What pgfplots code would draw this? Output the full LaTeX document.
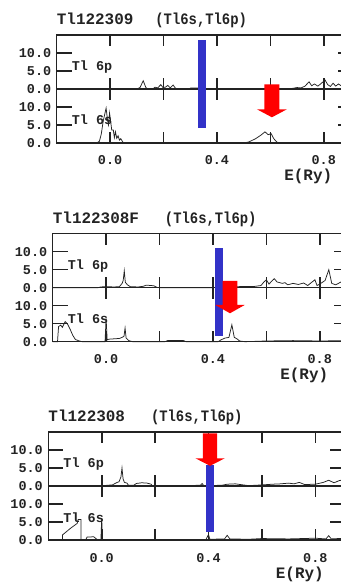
\documentclass[border=0pt]{standalone}
\usepackage{pgfplots}
\pgfplotsset{compat=1.18}
\usepackage{graphicx}
\usepackage{fontspec}
\setmainfont{Liberation Mono}

\definecolor{barblue}{RGB}{50,50,200}
\definecolor{arrowred}{RGB}{255,0,0}
\definecolor{inkgray}{RGB}{35,35,35}

\newcommand\ticklabelfont{\bfseries\fontsize{13.5}{14}\selectfont}
\newcommand\titlefont{\bfseries\fontsize{16}{18}\selectfont}

\pgfplotsset{
  dos/.style={
    scale only axis, width=296.4bp, height=54bp,
    xmin=-0.2, xmax=0.91, ymin=0, ymax=15,
    xtick={0,0.2,0.4,0.6,0.8}, ytick={0,5,10},
    minor ytick={5,10},
    yticklabels={0.0,5.0,10.0},
    tick align=inside,
    major tick length=11bp, minor tick length=15bp,
    axis line style={line width=1.1bp, inkgray},
    major tick style={line width=1.6bp, draw=inkgray},
    minor tick style={line width=1.6bp, draw=inkgray},
    tick label style={font=\ticklabelfont, text=inkgray},
    yticklabel style={anchor=east, xshift=-2bp},
    clip=false, anchor=south west,
  },
  dostop/.style={dos, xticklabels={}},
  dosbottom/.style={dos, xticklabels={0.0,,0.4,,0.8},
    xticklabel style={anchor=base, yshift=-22bp}},
  curve/.style={inkgray, line width=0.75bp, mark=none},
  fermibar/.style={fill=barblue, draw=none, mark=none},
  statearrow/.style={fill=arrowred, draw=none, mark=none},
}

\begin{document}
\begin{tikzpicture}

% ---------------- Tl122309 ----------------
\begin{axis}[dostop, at={(56.7bp,494bp)}]
  \addplot[curve] coordinates {(-0.2,0) (0.10,0) (0.112,0.4) (0.124,2.3) (0.134,0.4) (0.142,0)
    (0.16,0) (0.168,0.5) (0.178,0.3) (0.19,1.2) (0.198,0.4) (0.207,0.5) (0.216,1.0) (0.225,0.3)
    (0.236,1.1) (0.245,0.2) (0.258,0) (0.295,0) (0.302,0.3) (0.328,0.3) (0.336,0) (0.67,0)
    (0.685,0.2) (0.70,0.4) (0.715,0.3) (0.73,0.8) (0.745,2.0) (0.755,0.9) (0.765,1.4) (0.778,0.8)
    (0.79,1.5) (0.805,2.5) (0.815,1.2) (0.825,0.7) (0.835,1.6) (0.845,0.8) (0.855,1.4)
    (0.865,0.9) (0.88,1.1) (0.91,0.9)};
  \node[anchor=base west, inner sep=0, font=\ticklabelfont, text=inkgray, xshift=15bp] at (axis cs:-0.2,5) {Tl 6p};
  \node[anchor=base west, inner sep=0, font=\titlefont, text=inkgray, yshift=10bp] at (rel axis cs:0,1)
    {Tl122309\hspace{22bp}\scalebox{0.87}[1]{(Tl6s,Tl6p)}};
\end{axis}
\begin{axis}[dosbottom, at={(56.7bp,440bp)}]
  \addplot[curve] coordinates {(-0.2,0) (-0.05,0) (-0.04,0.5) (-0.033,2.5) (-0.026,6) (-0.015,9.7)
    (-0.009,6) (-0.006,5) (-0.002,8.3) (0.003,5.5) (0.006,3.6) (0.012,3.6) (0.016,1.5) (0.02,3.1)
    (0.025,1.3) (0.03,2.0) (0.035,0.8) (0.04,1.2) (0.048,0.2) (0.055,0) (0.50,0) (0.52,0.3)
    (0.545,1.2) (0.565,2.2) (0.58,3.1) (0.592,2.3) (0.603,2.6) (0.613,1.2) (0.625,0.2) (0.64,0) (0.91,0)};
  \node[anchor=base west, inner sep=0, font=\ticklabelfont, text=inkgray, xshift=15bp] at (axis cs:-0.2,5) {Tl 6s};
  \node[anchor=base, inner sep=0, font=\titlefont, text=inkgray, yshift=-38bp] at (axis cs:0.742,0) {E(Ry)};
  \addplot[fermibar] coordinates {(0.3306,4.25) (0.3594,4.25) (0.3594,28.6) (0.3306,28.6)} -- cycle;
  \addplot[statearrow] coordinates {(0.578,16.3) (0.634,16.3) (0.634,9.36) (0.662,9.36) (0.606,7.14)
    (0.550,9.36) (0.578,9.36)} -- cycle;
\end{axis}

% ---------------- Tl122308F ----------------
\begin{axis}[dostop, at={(52.7bp,295.3bp)}]
  \addplot[curve] coordinates {(-0.2,0) (-0.03,0) (-0.02,0.2) (0.0,0.3) (0.03,0.2) (0.05,0.3)
    (0.06,1.2) (0.064,2.0) (0.068,4.7) (0.072,1.5) (0.08,0.8) (0.09,0.3) (0.12,0.2) (0.14,0.4)
    (0.15,0.7) (0.17,0.6) (0.18,0.5) (0.19,0.1) (0.2,0) (0.40,0) (0.45,0.2) (0.50,0.3) (0.55,0.3)
    (0.58,0.6) (0.59,1.5) (0.60,2.2) (0.61,1.0) (0.62,1.8) (0.63,2.5) (0.64,1.6) (0.66,1.2)
    (0.67,1.4) (0.68,0.8) (0.70,1.2) (0.72,0.9) (0.74,1.3) (0.755,0.6) (0.77,1.5) (0.782,2.2)
    (0.79,0.6) (0.80,1.0) (0.82,2.0) (0.834,5.0) (0.845,1.2) (0.86,0.8) (0.88,1.6) (0.91,1.0)};
  \node[anchor=base west, inner sep=0, font=\ticklabelfont, text=inkgray, xshift=15bp] at (axis cs:-0.2,5) {Tl 6p};
  \node[anchor=base west, inner sep=0, font=\titlefont, text=inkgray, yshift=10bp] at (rel axis cs:0,1)
    {Tl122308F\hspace{26bp}\scalebox{0.87}[1]{(Tl6s,Tl6p)}};
\end{axis}
\begin{axis}[dosbottom, at={(52.7bp,241.3bp)}]
  \addplot[curve] coordinates {(-0.2,0) (-0.182,0) (-0.178,4.2) (-0.17,4.6) (-0.164,4.0)
    (-0.153,5.6) (-0.145,5.0) (-0.135,3.5) (-0.125,1.8) (-0.115,0.6) (-0.10,0.2) (-0.09,0)
    (-0.004,0) (0.0,6.5) (0.004,0.5) (0.01,0.7) (0.03,0.8) (0.05,0.9) (0.06,1.2) (0.067,1.5)
    (0.071,3.8) (0.075,1.0) (0.085,0.3) (0.1,0) (0.22,0) (0.23,0.3) (0.29,0.3) (0.30,0) (0.42,0)
    (0.43,0.5) (0.445,1.0) (0.46,1.2) (0.471,4.7) (0.48,1.2) (0.49,0.8) (0.50,0.2) (0.52,0)
    (0.6,0.2) (0.7,0.3) (0.8,0.2) (0.91,0.3)};
  \node[anchor=base west, inner sep=0, font=\ticklabelfont, text=inkgray, xshift=15bp] at (axis cs:-0.2,5) {Tl 6s};
  \node[anchor=base, inner sep=0, font=\titlefont, text=inkgray, yshift=-38bp] at (axis cs:0.742,0) {E(Ry)};
  \addplot[fermibar] coordinates {(0.4085,1.67) (0.4395,1.67) (0.4395,26.1) (0.4085,26.1)} -- cycle;
  \addplot[statearrow] coordinates {(0.436,16.9) (0.492,16.9) (0.492,10.2) (0.519,10.2) (0.464,7.9)
    (0.409,10.2) (0.436,10.2)} -- cycle;
\end{axis}

% ---------------- Tl122308 ----------------
\begin{axis}[dostop, at={(48.3bp,97bp)}]
  \addplot[curve] coordinates {(-0.2,0) (0.0,0) (0.02,0.2) (0.04,0.3) (0.055,0.9) (0.065,1.2)
    (0.072,2.5) (0.076,5.0) (0.080,2.0) (0.085,1.0) (0.095,0.8) (0.10,0.2) (0.12,0.2) (0.13,0.7)
    (0.15,0.9) (0.17,0.8) (0.185,0.5) (0.19,0) (0.25,0) (0.30,0.1) (0.37,0.2) (0.376,0.7)
    (0.382,0.1) (0.45,0.2) (0.47,0.5) (0.50,0.6) (0.52,0.4) (0.55,0.1) (0.60,0.3) (0.64,0.5)
    (0.67,0.6) (0.70,0.8) (0.72,0.6) (0.74,1.0) (0.76,0.4) (0.80,0.5) (0.83,1.0) (0.85,1.6)
    (0.87,0.9) (0.89,1.5) (0.91,1.8)};
  \node[anchor=base west, inner sep=0, font=\ticklabelfont, text=inkgray, xshift=15bp] at (axis cs:-0.2,5) {Tl 6p};
  \node[anchor=base west, inner sep=0, font=\titlefont, text=inkgray, yshift=10bp] at (rel axis cs:0,1)
    {Tl122308\hspace{26bp}\scalebox{0.87}[1]{(Tl6s,Tl6p)}};
\end{axis}
\begin{axis}[dosbottom, at={(48.3bp,43bp)}]
  \addplot[curve] coordinates {(-0.2,0) (-0.147,0) (-0.147,1.4) (-0.116,3.3) (-0.092,4.6)
    (-0.088,5.7) (-0.078,5.7) (-0.078,0) (-0.06,0) (-0.055,0.8) (-0.03,0.9) (-0.02,0.3)
    (-0.015,0) (-0.003,0) (0.0,6.0) (0.003,0) (0.10,0) (0.20,0.1) (0.39,0.1) (0.40,1.5)
    (0.405,0.2) (0.46,0.3) (0.47,1.3) (0.48,0.3) (0.55,0.2) (0.60,0.4) (0.70,0.3) (0.80,0.5)
    (0.84,0.3) (0.85,1.2) (0.86,0.3) (0.91,0.5)};
  \node[anchor=base west, inner sep=0, font=\ticklabelfont, text=inkgray, xshift=15bp] at (axis cs:-0.2,5) {Tl 6s};
  \node[anchor=base, inner sep=0, font=\titlefont, text=inkgray, yshift=-38bp] at (axis cs:0.742,0) {E(Ry)};
  \addplot[fermibar] coordinates {(0.392,2.1) (0.420,2.1) (0.420,20.8) (0.392,20.8)} -- cycle;
  \addplot[statearrow] coordinates {(0.379,29.6) (0.432,29.6) (0.432,22.7) (0.461,22.7) (0.406,20.6)
    (0.351,22.7) (0.379,22.7)} -- cycle;
\end{axis}

\pgfresetboundingbox
\path[use as bounding box] (0,0) rectangle (341bp,583bp);
\end{tikzpicture}
\end{document}
